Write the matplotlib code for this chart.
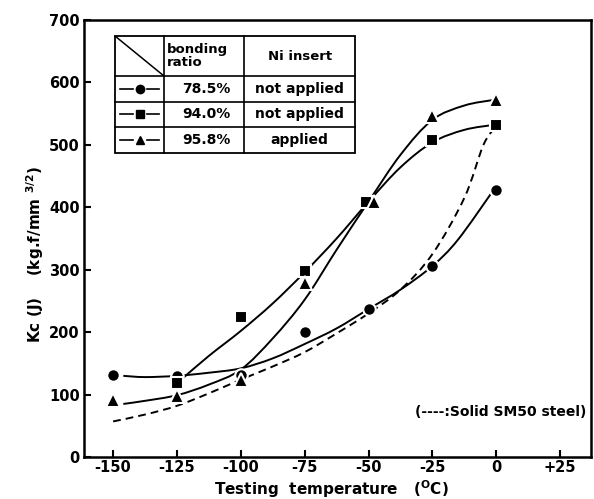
import matplotlib
matplotlib.use("Agg")
import matplotlib.pyplot as plt
from matplotlib.lines import Line2D
from matplotlib.patches import Rectangle, PathPatch
from matplotlib.path import Path

plt.rcParams['font.family'] = ['DejaVu Sans']
plt.rcParams['font.weight'] = 'bold'
plt.rcParams['axes.labelweight'] = 'bold'
plt.rcParams['mathtext.default'] = 'bf'

W, H = 594, 499

# measured points
temps = [-150, -125, -100, -75, -50, -25, 0]
kc_785 = [131, 130, 131, 200, 237, 306, 428]
temps_940 = [-125, -100, -75, -51, -25, 0]
kc_940 = [119, 224, 298, 409, 508, 532]
temps_958 = [-150, -125, -100, -75, -48, -25, 0]
kc_958 = [91, 98, 123, 279, 409, 546, 572]

# fitted curves as drawn in the figure
curve_t_785 = [-146, -137.5, -125, -112.5, -100, -87.5, -75, -62.5, -50, -37.5, -25, -15, -1]
curve_785 = [130, 128, 130, 135, 142, 158, 181, 206, 237, 268, 306, 348, 428]
curve_t_940 = [-122.5, -112.5, -100, -87.5, -75, -62.5, -50, -37.5, -25, -12.5, -1]
curve_940 = [127, 162, 202, 246, 296, 350, 409, 464, 504, 524, 532]
curve_t_958 = [-146, -137.5, -125, -112.5, -100, -87.5, -75, -62.5, -50, -37.5, -25, -12.5, -1]
curve_958 = [85, 90, 99, 116, 140, 190, 252, 332, 409, 484, 540, 563, 572]
curve_t_sm50 = [-150, -137.5, -125, -112.5, -100, -87.5, -75, -62.5, -50, -37.5, -25, -12.5, -5, 0]
curve_sm50 = [57, 68, 82, 102, 124, 145, 168, 198, 230, 268, 325, 415, 500, 530]

xticks = [-150, -125, -100, -75, -50, -25, 0, 25]
xticklabels = ['-150', '-125', '-100', '-75', '-50', '-25', '0', '+25']
yticks = [0, 100, 200, 300, 400, 500, 600, 700]

ratios = ['78.5%', '94.0%', '95.8%']
ni_insert = ['not applied', 'not applied', 'applied']
markers = ['o', 's', '^']


def smooth_path(xs, ys):
    # catmull-rom through the read points, drawn as cubic beziers
    pts = list(zip(xs, ys))
    verts = [pts[0]]
    codes = [Path.MOVETO]
    for i in range(len(pts) - 1):
        p0 = pts[i - 1] if i > 0 else pts[i]
        p1 = pts[i]
        p2 = pts[i + 1]
        p3 = pts[i + 2] if i + 2 < len(pts) else pts[i + 1]
        c1 = (p1[0] + (p2[0] - p0[0]) / 6, p1[1] + (p2[1] - p0[1]) / 6)
        c2 = (p2[0] - (p3[0] - p1[0]) / 6, p2[1] - (p3[1] - p1[1]) / 6)
        verts += [c1, c2, p2]
        codes += [Path.CURVE4] * 3
    return Path(verts, codes)


fig = plt.figure(figsize=(W / 100, H / 100), dpi=100)
ax = fig.add_axes([84 / W, 1 - 457 / H, (591 - 84) / W, (457 - 20) / H])
ax.set_xlim(-161.4, 37.1)
ax.set_ylim(0, 700)

lw = 1.4
for cx, cy, ls in [(curve_t_785, curve_785, '-'), (curve_t_940, curve_940, '-'),
                   (curve_t_958, curve_958, '-'), (curve_t_sm50, curve_sm50, (0, (4, 2.6)))]:
    ax.add_patch(PathPatch(smooth_path(cx, cy), facecolor='none', edgecolor='black',
                           lw=lw, ls=ls, zorder=2))

mk = dict(ls='none', color='black', mec='white', mew=1.5, zorder=3)
ax.plot(temps, kc_785, marker='o', ms=9, **mk)
ax.plot(temps_940, kc_940, marker='s', ms=9, **mk)
ax.plot(temps_958, kc_958, marker='^', ms=10, **mk)

ax.set_xticks(xticks)
ax.set_xticklabels(xticklabels)
ax.set_yticks(yticks)
ax.tick_params(direction='in', length=5, width=1.5, labelsize=10.5)
ax.tick_params(axis='x', pad=2)
ax.tick_params(axis='y', pad=3)
for s in ax.spines.values():
    s.set_linewidth(1.8)

fig.text(331 / W, 1 - 495 / H, 'Testing  temperature   ($^{\\rm O}$C)', ha='center',
         va='baseline', fontsize=11)
fig.text(35 / W, 1 - 255 / H, 'Kc (J)    (kg.f/mm $^{3/2}$)', ha='center', va='center',
         rotation=90, fontsize=11)

ax.text(0.99, 0.103, '(----:Solid SM50 steel)', transform=ax.transAxes,
        ha='right', va='center', fontsize=10)


# legend table, figure pixel coords
def fx(px):
    return px / W


def fy(py):
    return 1 - py / H


cols = [115, 164, 244, 355]
rows = [36, 76, 101.5, 127, 153]
fig.patches.append(Rectangle((fx(cols[0]), fy(rows[-1])), fx(cols[-1] - cols[0]),
                             (rows[-1] - rows[0]) / H, transform=fig.transFigure,
                             facecolor='white', edgecolor='black', lw=1.3, zorder=5))
for c in cols[1:-1]:
    fig.lines.append(Line2D([fx(c), fx(c)], [fy(rows[0]), fy(rows[-1])],
                            transform=fig.transFigure, color='black', lw=1.2, zorder=6))
for r in rows[1:-1]:
    fig.lines.append(Line2D([fx(cols[0]), fx(cols[-1])], [fy(r), fy(r)],
                            transform=fig.transFigure, color='black', lw=1.2, zorder=6))
fig.lines.append(Line2D([fx(cols[0]), fx(cols[1])], [fy(rows[0]), fy(rows[1])],
                        transform=fig.transFigure, color='black', lw=1.1, zorder=6))

fig.text(fx(167), fy(56), 'bonding\nratio', ha='left', va='center', fontsize=9.5,
         linespacing=0.95, zorder=7)
fig.text(fx(300), fy(56), 'Ni insert', ha='center', va='center', fontsize=9.5, zorder=7)

for i in range(3):
    ymid = fy((rows[i + 1] + rows[i + 2]) / 2)
    xm = (cols[0] + cols[1]) / 2
    fig.lines.append(Line2D([fx(cols[0] + 5), fx(xm - 7)], [ymid, ymid],
                            transform=fig.transFigure, color='black', lw=1.2, zorder=7))
    fig.lines.append(Line2D([fx(xm + 7), fx(cols[1] - 5)], [ymid, ymid],
                            transform=fig.transFigure, color='black', lw=1.2, zorder=7))
    fig.lines.append(Line2D([fx(xm)], [ymid], transform=fig.transFigure, marker=markers[i],
                            ms=6, color='black', ls='none', zorder=7))
    fig.text(fx((cols[1] + cols[2]) / 2 + 2), ymid, ratios[i], ha='center', va='center',
             fontsize=10, zorder=7)
    fig.text(fx((cols[2] + cols[3]) / 2), ymid, ni_insert[i], ha='center', va='center',
             fontsize=10, zorder=7)

fig.savefig('out.png', dpi=100)
